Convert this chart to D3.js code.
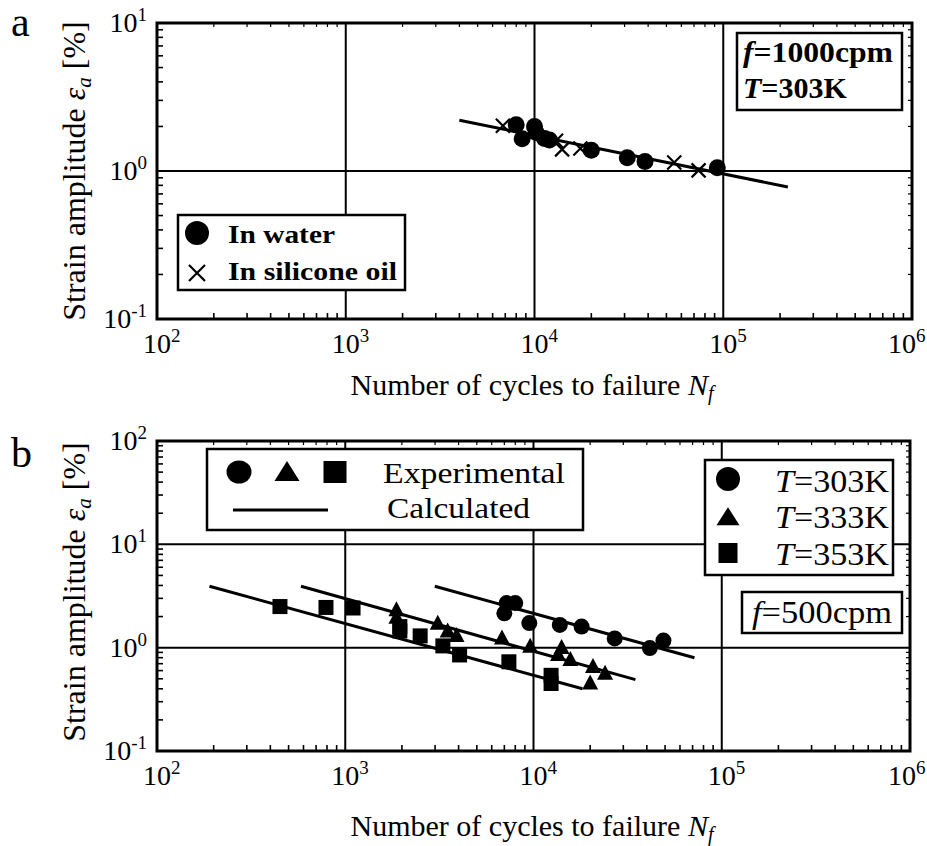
<!DOCTYPE html>
<html>
<head>
<meta charset="utf-8">
<script src="https://cdn.jsdelivr.net/npm/d3@7"></script>
<style>
  body { margin: 0; background: #fff; }
  svg { display: block; }
  text { font-family: 'Liberation Serif', 'Times New Roman', 'DejaVu Serif', serif; }
</style>
</head>
<body>
<div id="wrapper"></div>
<script>
// decade exponents used for the tick labels
const xTickExps = [2, 3, 4, 5, 6];
const yTickExpsA = [-1, 0, 1];
const yTickExpsB = [-1, 0, 1, 2];

// panel a : f=1000cpm, T=303K
const waterN = [8.0e3, 8.6e3, 1.0e4, 1.02e4, 1.13e4, 1.2e4, 2.0e4, 3.1e4, 3.85e4, 9.3e4];
const waterStrain = [2.05, 1.65, 2.0, 1.82, 1.66, 1.62, 1.38, 1.23, 1.16, 1.05];
const oilN = [6.8e3, 1.3e4, 1.4e4, 1.75e4, 5.5e4, 7.4e4];
const oilStrain = [2.02, 1.6, 1.4, 1.42, 1.14, 1.01];
const calcAN = [4.0e3, 2.2e5];
const calcAStrain = [2.2, 0.78];

// panel b : f=500cpm
const t303N = [7.2e3, 8.0e3, 7.0e3, 9.5e3, 1.38e4, 1.8e4, 2.7e4, 4.15e4, 4.9e4];
const t303Strain = [2.7, 2.7, 2.15, 1.73, 1.66, 1.6, 1.23, 0.99, 1.17];
const t333N = [1.87e3, 1.87e3, 3.1e3, 3.5e3, 3.9e3, 6.8e3, 9.6e3, 1.41e4, 1.35e4, 1.57e4, 2.07e4, 2.4e4, 2.0e4];
const t333Strain = [2.3, 1.95, 1.7, 1.43, 1.3, 1.23, 1.02, 0.99, 0.85, 0.76, 0.65, 0.56, 0.45];
const t353N = [450, 790, 1.1e3, 1.95e3, 1.95e3, 2.5e3, 3.3e3, 4.05e3, 7.4e3, 1.24e4, 1.24e4];
const t353Strain = [2.5, 2.45, 2.42, 1.6, 1.45, 1.3, 1.04, 0.85, 0.73, 0.54, 0.45];
const calc303N = [2.99e3, 7.16e4];
const calc303Strain = [3.93, 0.80];
const calc333N = [582, 3.48e4];
const calc333Strain = [3.93, 0.49];
const calc353N = [190, 1.82e4];
const calc353Strain = [3.93, 0.40];

const svg = d3.select("#wrapper").append("svg")
    .attr("width", 927)
    .attr("height", 846);

const zip = (xs, ys) => xs.map((x, i) => ({ n: x, e: ys[i] }));

function trianglePath(cx, cy, w, h) {
    return `M${cx},${cy - h * 0.6}L${cx + w / 2},${cy + h * 0.4}L${cx - w / 2},${cy + h * 0.4}Z`;
}
function crossPath(cx, cy, s) {
    return `M${cx - s},${cy - s}L${cx + s},${cy + s}M${cx - s},${cy + s}L${cx + s},${cy - s}`;
}

function drawPanel(p) {
    const x = d3.scaleLog().domain([1e2, 1e6]).range([p.left, p.right]);
    const y = d3.scaleLog().domain(p.yDomain).range([p.bottom, p.top]);
    const g = svg.append("g");

    // minor ticks, inward on every side
    const minors = [];
    for (let d = 2; d < 6; d++) for (let k = 2; k <= 9; k++) minors.push(k * Math.pow(10, d));
    const yMinors = [];
    const lo = Math.log10(p.yDomain[0]), hi = Math.log10(p.yDomain[1]);
    for (let d = lo; d < hi; d++) for (let k = 2; k <= 9; k++) yMinors.push(k * Math.pow(10, d));

    g.selectAll(".mxb").data(minors).join("line")
        .attr("x1", d => x(d)).attr("x2", d => x(d))
        .attr("y1", p.bottom).attr("y2", p.bottom - 6)
        .attr("stroke", "#000").attr("stroke-width", 1.6);
    g.selectAll(".mxt").data(minors).join("line")
        .attr("x1", d => x(d)).attr("x2", d => x(d))
        .attr("y1", p.top).attr("y2", p.top + 4)
        .attr("stroke", "#000").attr("stroke-width", 1.2);
    g.selectAll(".myl").data(yMinors).join("line")
        .attr("x1", p.left).attr("x2", p.left + 6)
        .attr("y1", d => y(d)).attr("y2", d => y(d))
        .attr("stroke", "#000").attr("stroke-width", 1.6);
    g.selectAll(".myr").data(yMinors).join("line")
        .attr("x1", p.right).attr("x2", p.right - 4)
        .attr("y1", d => y(d)).attr("y2", d => y(d))
        .attr("stroke", "#000").attr("stroke-width", 1.2);

    // decade grid
    g.selectAll(".gx").data(xTickExps.slice(1, -1)).join("line")
        .attr("x1", d => x(Math.pow(10, d))).attr("x2", d => x(Math.pow(10, d)))
        .attr("y1", p.top).attr("y2", p.bottom)
        .attr("stroke", "#000").attr("stroke-width", 2);
    g.selectAll(".gy").data(p.yExps.slice(1, -1)).join("line")
        .attr("x1", p.left).attr("x2", p.right)
        .attr("y1", d => y(Math.pow(10, d))).attr("y2", d => y(Math.pow(10, d)))
        .attr("stroke", "#000").attr("stroke-width", 2);

    g.append("rect")
        .attr("x", p.left).attr("y", p.top)
        .attr("width", p.right - p.left).attr("height", p.bottom - p.top)
        .attr("fill", "none").attr("stroke", "#000").attr("stroke-width", 3);

    // tick labels 10^n (last one pulled in so it stays on the page)
    const xl = g.selectAll(".xl").data(xTickExps).join("text")
        .attr("x", d => Math.min(x(Math.pow(10, d)) - 14, 888))
        .attr("y", p.bottom + 34)
        .attr("font-size", 28);
    xl.append("tspan").text("10");
    xl.append("tspan").attr("dy", -11).attr("font-size", 19).text(d => d);

    const yl = g.selectAll(".yl").data(p.yExps).join("text")
        .attr("x", p.left - 10)
        .attr("y", d => y(Math.pow(10, d)) + 9)
        .attr("text-anchor", "end")
        .attr("font-size", 28);
    yl.append("tspan").text("10");
    yl.append("tspan").attr("dy", -11).attr("font-size", 19).text(d => d);

    // axis titles
    const xt = g.append("text")
        .attr("x", 532).attr("y", p.xTitleY)
        .attr("text-anchor", "middle").attr("font-size", 30);
    xt.append("tspan").text("Number of cycles to failure ");
    xt.append("tspan").attr("font-style", "italic").text("N");
    xt.append("tspan").attr("font-style", "italic").attr("font-size", 20).attr("dy", 5).text("f");

    const yt = g.append("text")
        .attr("transform", `translate(85,${p.yTitleY}) rotate(-90)`)
        .attr("text-anchor", "middle").attr("font-size", 32);
    yt.append("tspan").text("Strain amplitude ");
    yt.append("tspan").attr("font-style", "italic").text("\u03b5");
    yt.append("tspan").attr("font-style", "italic").attr("font-size", 21).attr("dy", 6).text("a");
    yt.append("tspan").attr("dy", -6).text(" [%]");

    g.append("text")
        .attr("x", 11).attr("y", p.letterY)
        .attr("font-size", 42).text(p.letter);

    return { g, x, y };
}

// ---------------- panel a ----------------
const pa = drawPanel({
    left: 157, right: 912, top: 23, bottom: 319, yDomain: [0.1, 10], yExps: yTickExpsA,
    xTitleY: 395, yTitleY: 171, letter: "a", letterY: 36
});

const line = (x, y) => d3.line().x(d => x(d.n)).y(d => y(d.e));

pa.g.append("path")
    .attr("d", line(pa.x, pa.y)(zip(calcAN, calcAStrain)))
    .attr("fill", "none").attr("stroke", "#000").attr("stroke-width", 3);

pa.g.selectAll(".oil").data(zip(oilN, oilStrain)).join("path")
    .attr("d", d => crossPath(pa.x(d.n), pa.y(d.e), 7))
    .attr("stroke", "#000").attr("stroke-width", 2.2).attr("fill", "none");

pa.g.selectAll(".water").data(zip(waterN, waterStrain)).join("circle")
    .attr("cx", d => pa.x(d.n)).attr("cy", d => pa.y(d.e))
    .attr("r", 8.5).attr("fill", "#000");

// legend a
pa.g.append("rect").attr("x", 178).attr("y", 215).attr("width", 227).attr("height", 75)
    .attr("fill", "#fff").attr("stroke", "#000").attr("stroke-width", 2.5);
pa.g.append("circle").attr("cx", 197).attr("cy", 233).attr("r", 12).attr("fill", "#000");
pa.g.append("path").attr("d", crossPath(197, 273, 8))
    .attr("stroke", "#000").attr("stroke-width", 2.2);
pa.g.append("text").attr("x", 228).attr("y", 243).attr("font-size", 26).attr("font-weight", "bold")
    .attr("textLength", 107).attr("lengthAdjust", "spacingAndGlyphs").text("In water");
pa.g.append("text").attr("x", 228).attr("y", 280).attr("font-size", 26).attr("font-weight", "bold")
    .attr("textLength", 169).attr("lengthAdjust", "spacingAndGlyphs").text("In silicone oil");

pa.g.append("rect").attr("x", 737).attr("y", 33).attr("width", 165).attr("height", 77)
    .attr("fill", "#fff").attr("stroke", "#000").attr("stroke-width", 2.5);
const fa = pa.g.append("text").attr("x", 743).attr("y", 62).attr("font-size", 30).attr("font-weight", "bold")
    .attr("textLength", 150).attr("lengthAdjust", "spacingAndGlyphs");
fa.append("tspan").attr("font-style", "italic").text("f");
fa.append("tspan").text("=1000cpm");
const ta = pa.g.append("text").attr("x", 743).attr("y", 98).attr("font-size", 30).attr("font-weight", "bold")
    .attr("textLength", 104).attr("lengthAdjust", "spacingAndGlyphs");
ta.append("tspan").attr("font-style", "italic").text("T");
ta.append("tspan").text("=303K");

// ---------------- panel b ----------------
const pb = drawPanel({
    left: 157, right: 910, top: 441, bottom: 751, yDomain: [0.1, 100], yExps: yTickExpsB,
    xTitleY: 836, yTitleY: 592, letter: "b", letterY: 467
});

[[calc303N, calc303Strain], [calc333N, calc333Strain], [calc353N, calc353Strain]].forEach(c => {
    pb.g.append("path")
        .attr("d", line(pb.x, pb.y)(zip(c[0], c[1])))
        .attr("fill", "none").attr("stroke", "#000").attr("stroke-width", 3);
});

pb.g.selectAll(".c303").data(zip(t303N, t303Strain)).join("circle")
    .attr("cx", d => pb.x(d.n)).attr("cy", d => pb.y(d.e))
    .attr("r", 8).attr("fill", "#000");
pb.g.selectAll(".t333").data(zip(t333N, t333Strain)).join("path")
    .attr("d", d => trianglePath(pb.x(d.n), pb.y(d.e), 16, 15))
    .attr("fill", "#000");
pb.g.selectAll(".s353").data(zip(t353N, t353Strain)).join("rect")
    .attr("x", d => pb.x(d.n) - 7.5).attr("y", d => pb.y(d.e) - 7.5)
    .attr("width", 15).attr("height", 15).attr("fill", "#000");

// legend b (symbols)
pb.g.append("rect").attr("x", 207).attr("y", 449).attr("width", 376).attr("height", 81)
    .attr("fill", "#fff").attr("stroke", "#000").attr("stroke-width", 2.5);
pb.g.append("ellipse").attr("cx", 239).attr("cy", 472).attr("rx", 12.5).attr("ry", 11.5).attr("fill", "#000");
pb.g.append("path").attr("d", trianglePath(287, 473, 25, 20)).attr("fill", "#000");
pb.g.append("rect").attr("x", 323.5).attr("y", 461).attr("width", 23).attr("height", 22).attr("fill", "#000");
pb.g.append("text").attr("x", 383).attr("y", 483).attr("font-size", 30)
    .attr("textLength", 182).attr("lengthAdjust", "spacingAndGlyphs").text("Experimental");
pb.g.append("line").attr("x1", 233).attr("x2", 328).attr("y1", 510).attr("y2", 510)
    .attr("stroke", "#000").attr("stroke-width", 3);
pb.g.append("text").attr("x", 387).attr("y", 518).attr("font-size", 30)
    .attr("textLength", 143).attr("lengthAdjust", "spacingAndGlyphs").text("Calculated");

// legend b (temperatures)
const tempLabels = ["303K", "333K", "353K"];
pb.g.append("rect").attr("x", 705).attr("y", 460).attr("width", 188).attr("height", 115)
    .attr("fill", "#fff").attr("stroke", "#000").attr("stroke-width", 2.5);
pb.g.append("circle").attr("cx", 728).attr("cy", 479).attr("r", 12).attr("fill", "#000");
pb.g.append("path").attr("d", trianglePath(728, 518, 23, 18)).attr("fill", "#000");
pb.g.append("rect").attr("x", 718.5).attr("y", 543).attr("width", 19).attr("height", 20).attr("fill", "#000");
tempLabels.forEach((t, i) => {
    const tx = pb.g.append("text").attr("x", 775).attr("y", 491.5 + i * 36.7).attr("font-size", 32)
        .attr("textLength", 114).attr("lengthAdjust", "spacingAndGlyphs");
    tx.append("tspan").attr("font-style", "italic").text("T");
    tx.append("tspan").text("=" + t);
});

pb.g.append("rect").attr("x", 742).attr("y", 592).attr("width", 160).attr("height", 41)
    .attr("fill", "#fff").attr("stroke", "#000").attr("stroke-width", 2.5);
const fb = pb.g.append("text").attr("x", 752).attr("y", 623).attr("font-size", 31)
    .attr("textLength", 140).attr("lengthAdjust", "spacingAndGlyphs");
fb.append("tspan").attr("font-style", "italic").text("f");
fb.append("tspan").text("=500cpm");
</script>
</body>
</html>
